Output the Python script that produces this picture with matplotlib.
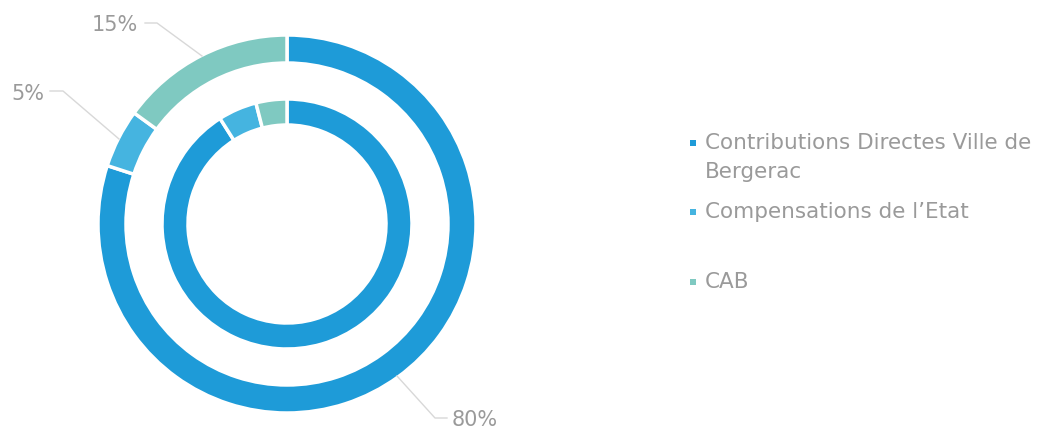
import matplotlib
matplotlib.use('Agg')
import matplotlib.pyplot as plt

CATEGORIES = ['Contributions Directes Ville de\nBergerac', 'Compensations de l’Etat', 'CAB']
COLORS = ['#1e9bd8', '#45b4e0', '#7fc9c1']

OUTER = [80, 5, 15]
INNER = [91, 5, 4]
OUTER_LABELS = ['80%', '5%', '15%']

W, H = 1045, 428
CX, CY = 287, H - 224
TEXT_GREY = '#9a9a9a'
LINE_GREY = '#d8d8d8'

fig = plt.figure(figsize=(W / 100, H / 100), dpi=100)
ax = fig.add_axes([0, 0, 1, 1])

wedge_style = dict(edgecolor='white', linewidth=2.5)
ax.pie(OUTER, colors=COLORS, radius=189, center=(CX, CY), startangle=90,
       counterclock=False, wedgeprops=dict(width=28, **wedge_style), frame=True)
ax.pie(INNER, colors=COLORS, radius=125, center=(CX, CY), startangle=90,
       counterclock=False, wedgeprops=dict(width=26, **wedge_style), frame=True)
ax.set_xlim(0, W)
ax.set_ylim(0, H)
ax.set_aspect('equal')
ax.axis('off')

# leader lines + labels for the outer ring (pixel positions, y from top)
leaders = {
    '80%': ([397, 435, 447], [376, 418, 418], (452, 420), 'left'),
    '5%': ([119, 63, 50], [139, 91, 91], (44, 94), 'right'),
    '15%': ([202, 157, 145], [56, 23, 23], (138, 25), 'right'),
}
for lab in OUTER_LABELS:
    xs, ys, (tx, ty), ha = leaders[lab]
    ax.plot(xs, [H - y for y in ys], color=LINE_GREY, lw=1)
    ax.text(tx, H - ty, lab, ha=ha, va='center', fontsize=15, color=TEXT_GREY)

# legend
legend_y = [143, 212, 282]
for cat, color, y in zip(CATEGORIES, COLORS, legend_y):
    ax.scatter([693], [H - y], marker='s', s=22, color=color, edgecolors='none')
    for i, line in enumerate(cat.split('\n')):
        ax.text(705, H - y - i * 29, line, ha='left', va='center',
                fontsize=15.5, color=TEXT_GREY)

fig.savefig('out.png', dpi=100, facecolor='white')
